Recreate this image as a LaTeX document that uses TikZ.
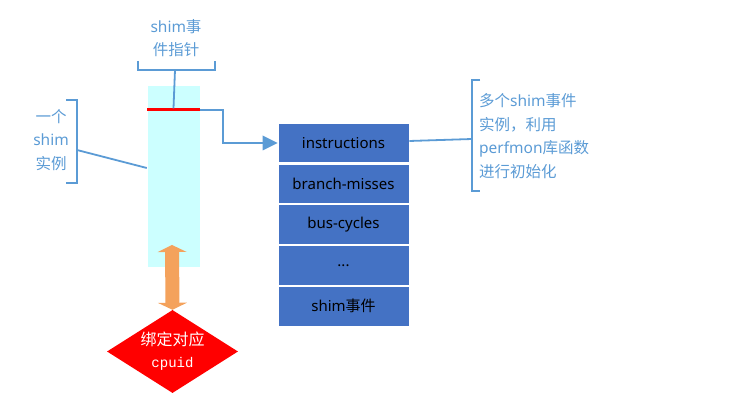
\documentclass[tikz,border=0pt]{standalone}
\usepackage{fontspec}
\setmainfont{Noto Sans}
\newfontfamily\cjk{Noto Sans CJK SC}
\newfontfamily\cpufont{Liberation Mono}
\newcommand{\zhtext}[1]{{\cjk #1}}
\usetikzlibrary{positioning,arrows.meta,shapes.geometric}
\definecolor{labelblue}{RGB}{91,155,213}
\definecolor{boxblue}{RGB}{68,114,196}
\definecolor{colcyan}{RGB}{204,255,255}
\definecolor{bindorange}{RGB}{244,162,92}

\begin{document}
\begin{tikzpicture}[x=1pt,y=-1pt,
    note/.style={text=labelblue, font=\fontsize{15.5}{23.5}\selectfont, align=center, inner sep=0pt},
    brace/.style={draw=labelblue, line width=1.8pt},
    evbox/.style={fill=boxblue, draw=white, line width=0.6pt, minimum width=131pt,
        minimum height=39.6pt, inner sep=0pt, font=\fontsize{15}{18}\selectfont},
    ]
    \useasboundingbox (0,0) rectangle (747,419);

    % shim instance column and its event pointer
    \node (col) [fill=colcyan, draw=white, minimum width=53pt, minimum height=182pt, inner sep=0pt] at (173.5,176) {};
    \node (ptr) [fill=red, minimum width=53pt, minimum height=3pt, inner sep=0pt] at (173.5,110) {};

    % event list
    \node (ev1) [evbox] at (343.5,143) {instructions};
    \node (ev2) [evbox, below=0.6pt of ev1] {branch-misses};
    \node (ev3) [evbox, below=0.6pt of ev2] {bus-cycles};
    \node (ev4) [evbox, below=0.6pt of ev3] {...};
    \node (ev5) [evbox, below=0.6pt of ev4] {shim\zhtext{事件}};

    % cpuid binding
    \node (bind) [diamond, fill=red, text=white, aspect=1.58, inner sep=0pt, minimum width=131pt,
        minimum height=83pt, align=center, font=\cjk\fontsize{16}{22}\selectfont] at (172.5,351.5)
        {绑定对应\\{\cpufont\fontsize{14}{22}\selectfont cpuid}};
    \coordinate (bindtop) at (172,245);
    \draw[bindorange, line width=14pt,
        {Triangle[length=7pt,width=29pt,line width=0pt]}-{Triangle[length=7pt,width=29pt,line width=0pt]}]
        (bindtop) -- (bind.north);

    % pointer to first event
    \draw[brace, -{Triangle[length=15pt,width=15pt,line width=0pt]}] (ptr.east) -- ++(23,0) |- (ev1.west);

    % brackets
    \draw[brace] (138,61) -- (138,70) -- (215,70) -- (215,61);
    \coordinate (ptrbrace) at (175,70);
    \draw[brace] (ptrbrace) -- (ptr.north);

    \draw[brace] (66,100) -- (77,100) -- (77,183) -- (66,183);
    \coordinate (instbrace) at (77,150);
    \draw[brace] (instbrace) -- ([yshift=8pt]col.west);

    \draw[brace] (480,80) -- (472,80) -- (472,191) -- (480,191);
    \coordinate (evbrace) at (472,139);
    \draw[brace] ([yshift=2pt]ev1.east) -- (evbrace);

    % labels
    \node (ptrlabel) [note] at (176,38) {shim\zhtext{事}\\\zhtext{件指针}};
    \node (instlabel) [note] at (51,140) {\zhtext{一个}\\shim\\\zhtext{实例}};
    \node (evlabel) [note, align=left, anchor=west] at (479,136)
        {\zhtext{多个}shim\zhtext{事件}\\\zhtext{实例，利用}\\perfmon\zhtext{库函数}\\\zhtext{进行初始化}};

\end{tikzpicture}
\end{document}
